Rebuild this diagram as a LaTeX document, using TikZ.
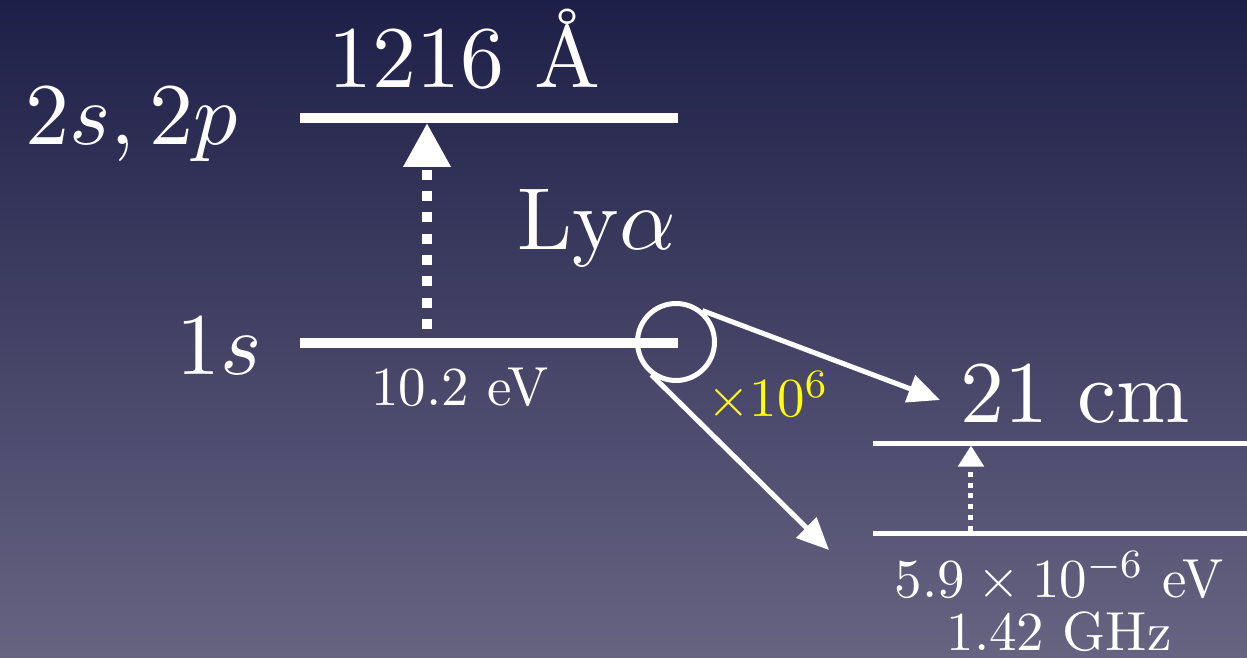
\documentclass[tikz,border=0pt]{standalone}
\usepackage{tikz}
\usetikzlibrary{arrows.meta,positioning}
\definecolor{bgtop}{HTML}{1E1F48}
\definecolor{bgmid}{HTML}{41425F}
\definecolor{bgbot}{HTML}{676482}
\definecolor{hl}{HTML}{FFFF00}
\tikzset{
  lvl/.style={draw=white,line width=10pt},
  lvls/.style={draw=white,line width=5pt},
  jump/.style={-{Triangle[length=44pt,width=45pt]},draw=white,line width=10pt,dash pattern=on 10pt off 11.3pt,dash phase=12.3pt},
  jumps/.style={-{Triangle[length=21pt,width=25pt]},draw=white,line width=5pt,dash pattern=on 5pt off 5.7pt},
  zarr/.style={-{Triangle[length=32pt,width=28pt]},draw=white,line width=5pt},
  big/.style={text=white,font=\fontsize{10}{12}\selectfont,inner sep=0pt,anchor=base,scale=8.8,transform shape},
  sml/.style={text=white,font=\fontsize{10.95}{10.55}\selectfont,inner sep=0pt,anchor=base,align=center,scale=5.023,transform shape},
}
\begin{document}
\begin{tikzpicture}[x=1pt,y=1pt]
  % background
  \shade[top color=bgtop,middle color=bgmid,bottom color=bgbot] (0,0) rectangle (1247,657);
  \useasboundingbox (0,0) rectangle (1247,657);
  % Lyman alpha levels
  \draw[lvl] (300,539) -- coordinate[pos=0.336] (j2) (678,539);
  \draw[lvl] (300,314) -- coordinate[pos=0.336] (j1) (678,314);
  \draw[jump] ([yshift=5pt]j1) -- ([yshift=-5pt]j2);
  \node[big] (lu)  at (131.5,512) {$2s, 2p$};
  \node[big] (wl)  at (464.5,569) {1216 \AA};
  \node[big] (lya) at (597,407)   {Ly$\alpha$};
  \node[big] (lo)  at (219,282)   {$1s$};
  \node[sml] (ev)  at (460,252)   {10.2 eV};
  % zoom on the ground state
  \node[circle,draw=white,line width=5pt,minimum size=77pt,inner sep=0pt] (zm) at (676,315) {};
  \coordinate (t1) at (940,257);
  \coordinate (t2) at (829,107);
  \draw[zarr] (zm.50) -- (t1);
  \draw[zarr] (zm.233) -- (t2);
  \node[sml,text=hl] (fac) at (768,240) {$\times 10^6$};
  % hyperfine levels
  \draw[lvls] (873,214) -- coordinate[pos=0.262] (h2) (1247,214);
  \draw[lvls] (873,124) -- coordinate[pos=0.262] (h1) (1247,124);
  \draw[jumps] ([yshift=2.5pt]h1) -- ([yshift=-2.5pt]h2);
  \node[big] (cm) at (1075,234) {21 cm};
  \node[sml] (hf) at (1059,7) {$5.9\times10^{-6}$ eV\\1.42 GHz};
\end{tikzpicture}
\end{document}
